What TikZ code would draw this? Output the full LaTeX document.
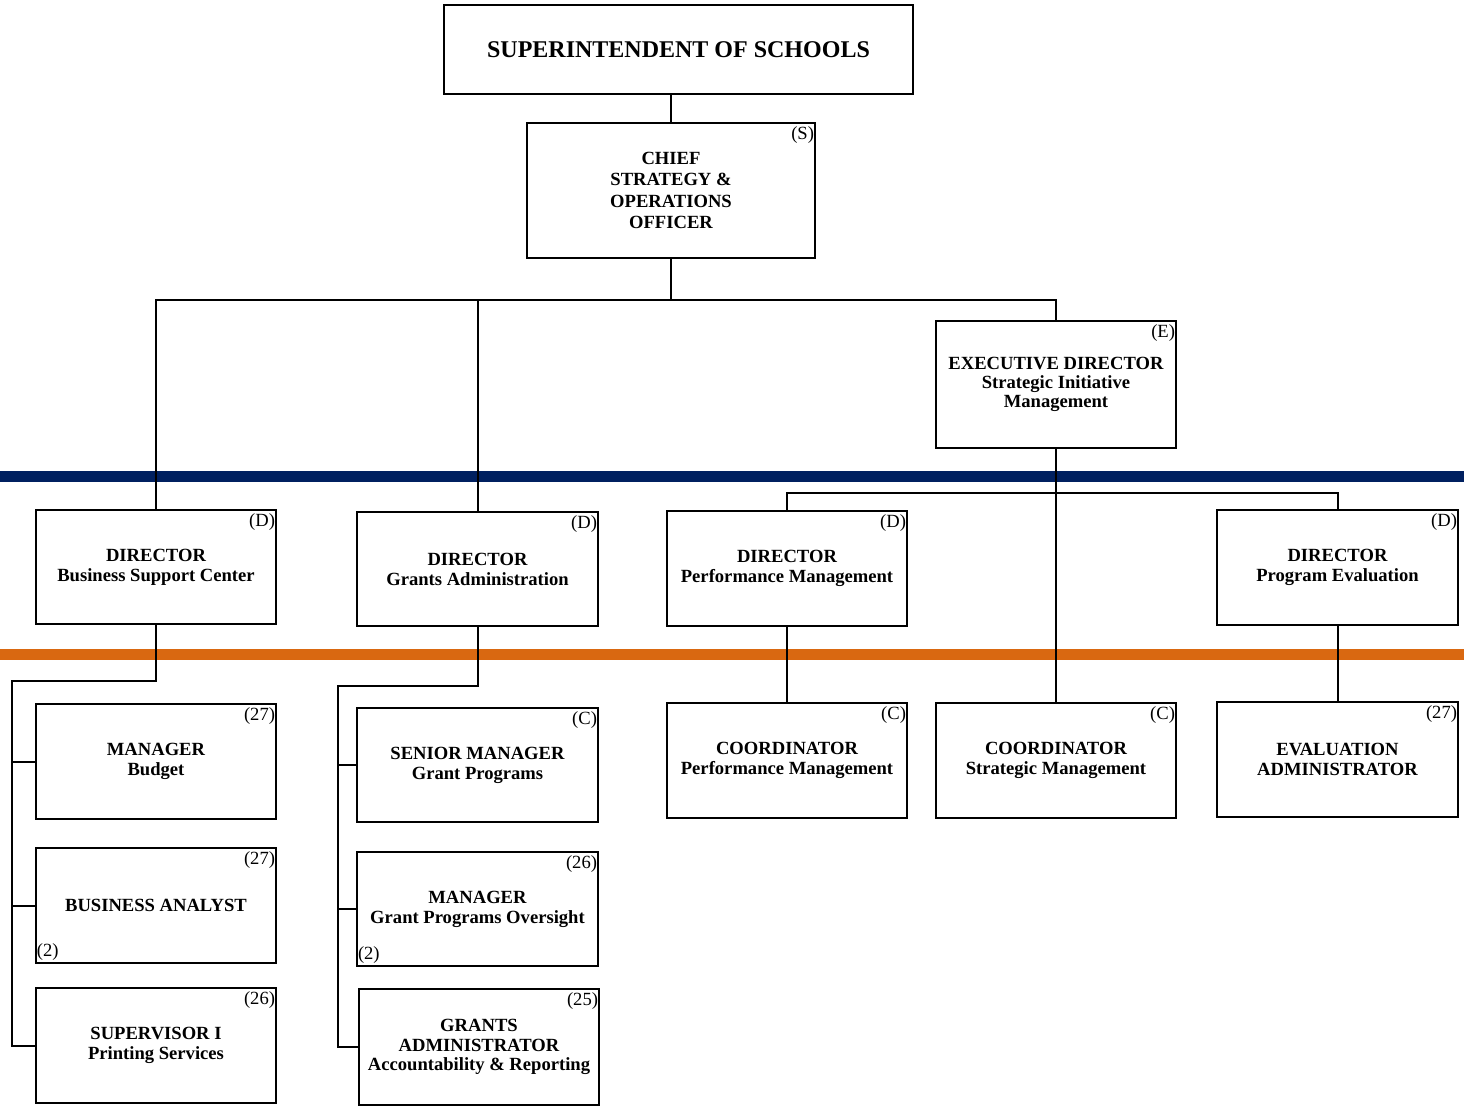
\documentclass[tikz,border=0pt]{standalone}
\usepackage{fontspec}
\setmainfont{Liberation Serif}
\definecolor{bandnavy}{RGB}{0,32,96}
\definecolor{bandorange}{RGB}{217,104,17}
\begin{document}
\begin{tikzpicture}[x=0.5pt,y=-0.5pt,
  box/.style={draw,line width=1pt,fill=white,minimum width=120pt,minimum height=57.5pt,inner sep=0pt,align=center,
    font=\bfseries\fontsize{9.3}{10}\selectfont},
  tag/.style={label={[anchor=north east,inner xsep=0.8pt,inner ysep=2pt,font=\fontsize{9.3}{10}\selectfont]north east:#1}},
  cnt/.style={label={[anchor=south west,inner xsep=0.8pt,inner ysep=1.5pt,font=\fontsize{9.3}{10}\selectfont]south west:#1}},
  conn/.style={line width=1pt}]
\useasboundingbox (0,0) rectangle (1464,1110);
% bands
\fill[bandnavy] (0,470.5) rectangle (1464,481.5);
\fill[bandorange] (0,649) rectangle (1464,659.5);
% nodes
\node[box,minimum width=234.5pt,minimum height=44.5pt,font=\bfseries\fontsize{12}{14}\selectfont] (sup) at (678.5,49.5) {SUPERINTENDENT OF SCHOOLS};
\node[box,minimum width=144pt,minimum height=67.5pt,tag=(S),font=\bfseries\fontsize{9.3}{10.8}\selectfont] (chief) at (671,190.5) {CHIEF\\STRATEGY \&\\OPERATIONS\\OFFICER};
\node[box,minimum height=63.5pt,tag=(E),font=\bfseries\fontsize{9.3}{9.6}\selectfont] (exec) at (1056,384.5) {EXECUTIVE DIRECTOR\\Strategic Initiative\\Management};
\node[box,minimum height=57pt,tag=(D)] (dbsc) at (156,567) {DIRECTOR\\Business Support Center};
\node[box,minimum width=120.5pt,minimum height=57pt,tag=(D)] (dga) at (477.5,569) {DIRECTOR\\Grants Administration};
\node[box,tag=(D)] (dpm) at (787,568.5) {DIRECTOR\\Performance Management};
\node[box,minimum width=120.5pt,tag=(D)] (dpe) at (1337.5,567.5) {DIRECTOR\\Program Evaluation};
\node[box,tag=(27)] (mb) at (156,761.5) {MANAGER\\Budget};
\node[box,tag=(27),cnt=(2)] (ba) at (156,905.5) {BUSINESS ANALYST};
\node[box,tag=(26)] (sv) at (156,1045.5) {SUPERVISOR I\\Printing Services};
\node[box,minimum width=120.5pt,minimum height=57pt,tag=(C)] (sm) at (477.5,765) {SENIOR MANAGER\\Grant Programs};
\node[box,minimum width=120.5pt,minimum height=57pt,tag=(26),cnt=(2)] (mg) at (477.5,909) {MANAGER\\Grant Programs Oversight};
\node[box,minimum height=58pt,tag=(25),font=\bfseries\fontsize{9.3}{9.8}\selectfont] (gadm) at (479,1047) {GRANTS\\ADMINISTRATOR\\Accountability \& Reporting};
\node[box,tag=(C)] (cpm) at (787,760.5) {COORDINATOR\\Performance Management};
\node[box,tag=(C)] (csm) at (1056,760.5) {COORDINATOR\\Strategic Management};
\node[box,minimum width=120.5pt,tag=(27)] (ea) at (1337.5,759.5) {EVALUATION\\ADMINISTRATOR};
% connectors
\coordinate (bus) at (669,300);
\coordinate (bus2) at (1056,493);
\coordinate (lt) at (12,681);
\coordinate (gt) at (338,686);
\draw[conn] (chief.north |- sup.south) -- (chief.north);
\draw[conn] (chief.south) -- (chief.south |- bus);
\draw[conn] (dbsc.north) -- (dbsc.north |- bus) -| (exec.north);
\draw[conn] (dga.north) -- (dga.north |- bus);
\draw[conn] (exec.south) -- (csm.north);
\draw[conn] (dpm.north) |- (bus2) -| (dpe.north);
\draw[conn] (dpm.south) -- (cpm.north);
\draw[conn] (dpe.south) -- (ea.north);
\draw[conn] (dbsc.south) |- (lt) -- (lt |- sv.west) -- (sv.west);
\draw[conn] (lt |- mb.west) -- (mb.west);
\draw[conn] (lt |- ba.west) -- (ba.west);
\draw[conn] (dga.south) |- (gt) -- (gt |- gadm.west) -- (gadm.west);
\draw[conn] (gt |- sm.west) -- (sm.west);
\draw[conn] (gt |- mg.west) -- (mg.west);
\end{tikzpicture}
\end{document}
